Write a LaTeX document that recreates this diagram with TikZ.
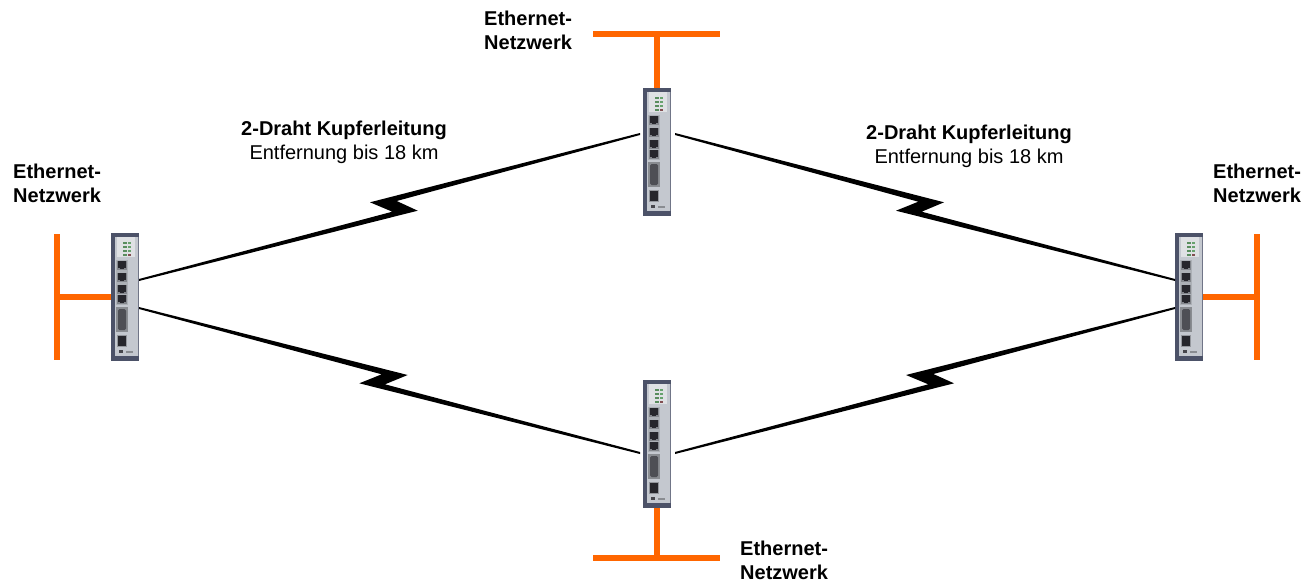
\documentclass[tikz,border=0pt]{standalone}
\usepackage{fontspec}
\setmainfont{Liberation Sans}
\usetikzlibrary{calc}
\definecolor{ethorange}{HTML}{FF6600}
\definecolor{devframe}{HTML}{4C5268}
\definecolor{devface}{HTML}{C4C8CF}
\definecolor{devport}{HTML}{26262C}
\tikzset{
  x=1pt,y=-1pt,
  bus/.style={draw=ethorange,line width=5.5pt},
  devbox/.style={draw=none,fill=devframe,minimum width=28pt,minimum height=128pt,inner sep=0pt,outer sep=0pt},
  lab/.style={font=\fontsize{20pt}{24pt}\selectfont\bfseries,align=left,inner sep=0pt},
  sublab/.style={font=\fontsize{20pt}{23.5pt}\selectfont,align=center,inner sep=0pt},
  wire/.style={fill=black,draw=none},
  halo/.style={fill=devport,opacity=0.3},
  device/.pic={
    \fill[devframe] (-14,-64) rectangle (14,64);
    \fill[devface] (-10.5,-60.5) rectangle (12.5,59);
    \fill[devface!55!white] (-8,-60) rectangle (10,-40);
    \fill[devframe!70!devface] (12.5,-60.5) rectangle (14,59);
    \foreach \r in {-55,-51,-47}{
      \fill[green!30!devface!65!black] (-2,\r) rectangle (1.5,\r+2.2);
      \fill[green!30!devface!75!black] (3,\r) rectangle (6,\r+2.2);
    }
    \fill[green!30!devface!65!black] (-2,-43) rectangle (1.5,-40.8);
    \fill[red!35!devface!60!black] (3,-43) rectangle (6,-40.8);
    \fill[devface!88!black] (-9.5,-37.5) rectangle (2.5,7.5);
    \foreach \r in {-36,-24,-12,-2}{
      \fill[halo] (-8.5,\r-0.5) rectangle (2,\r+9);
      \fill[devport] (-7,\r) rectangle (0.5,\r+6.5);
      \fill[devport] (-5.5,\r+6.5) rectangle (-1,\r+8.2);
    }
    \fill[devface!70!black] (-9,10) rectangle (2.5,35);
    \fill[devport!75!devface,rounded corners=1.5pt] (-7,12) rectangle (1,33);
    \fill[halo] (-8.5,37.5) rectangle (2,49.5);
    \fill[devport] (-7.5,38.5) rectangle (1,48.5);
    \fill[devport!80!devface] (-6,52.5) rectangle (-2,56);
    \fill[devface!70!black] (1,53.5) rectangle (8,55.5);
  }
}
\newcommand{\zigwire}[8]{%
  \fill[wire] (#1) -- #3 -- #4 -- (#2) -- ($(#2)+(#8)$) -- #5 -- #6 -- ($(#1)+(#7)$) -- cycle;}
\begin{document}
\begin{tikzpicture}
\useasboundingbox (0,0) rectangle (1302,581);
\node[devbox] (L) at (125,297) {};
\node[devbox] (T) at (657,152) {};
\node[devbox] (R) at (1189,297) {};
\node[devbox] (B) at (657,444) {};
\path (L) pic {device};
\path (T) pic {device};
\path (R) pic {device};
\path (B) pic {device};
% bus bars
\coordinate (LJ) at (57,297);
\coordinate (RJ) at (1257,297);
\coordinate (TJ) at (657,34);
\coordinate (BJ) at (657,558);
\draw[bus] (LJ) -- (L.west);
\draw[bus] (R.east) -- (RJ);
\draw[bus] (TJ) -- (T.north);
\draw[bus] (B.south) -- (BJ);
\draw[bus] ($(LJ)+(0,-63)$) -- ($(LJ)+(0,63)$);
\draw[bus] ($(RJ)+(0,-63)$) -- ($(RJ)+(0,63)$);
\draw[bus] ($(TJ)+(-64,0)$) -- ($(TJ)+(63,0)$);
\draw[bus] ($(BJ)+(-64,0)$) -- ($(BJ)+(63,0)$);
% wires
\coordinate (LU) at ($(L.east)+(0,-18)$);
\coordinate (LD) at ($(L.east)+(0,10)$);
\coordinate (RU) at ($(R.west)+(0,-18)$);
\coordinate (RD) at ($(R.west)+(0,10)$);
\coordinate (TL) at ($(T.west)+(-3,-19)$);
\coordinate (TR) at ($(T.east)+(4,-19)$);
\coordinate (BL) at ($(B.west)+(-3,8)$);
\coordinate (BR) at ($(B.east)+(4,8)$);
\zigwire{LU}{TL}{(392.3,211.7)}{(370,202.3)}{(396.7,201)}{(417.7,210.7)}{0,2}{0,2}
\zigwire{TR}{RU}{(944,202.3)}{(921.7,211.7)}{(896,210.7)}{(918.3,201.7)}{0,2}{0,2}
\zigwire{LD}{BL}{(407.7,375)}{(385,384.3)}{(359.3,383.3)}{(381.7,374.3)}{0,2}{0,2}
\zigwire{BR}{RD}{(928.3,384.3)}{(906,375)}{(933.3,374)}{(954,383.3)}{0,2}{0,2}
% labels
\node[lab,anchor=north west] (t1) at (13,164) {Ethernet-\\Netzwerk};
\node[lab,anchor=north west] (t2) at (484,11) {Ethernet-\\Netzwerk};
\node[lab,anchor=north west] (t3) at (1213,164) {Ethernet-\\Netzwerk};
\node[lab,anchor=north west] (t4) at (740,541) {Ethernet-\\Netzwerk};
\node[sublab,anchor=north] (k1) at (344,121) {\textbf{2-Draht Kupferleitung}\\Entfernung bis 18 km};
\node[sublab,anchor=north] (k2) at (969,125) {\textbf{2-Draht Kupferleitung}\\Entfernung bis 18 km};
\end{tikzpicture}
\end{document}
